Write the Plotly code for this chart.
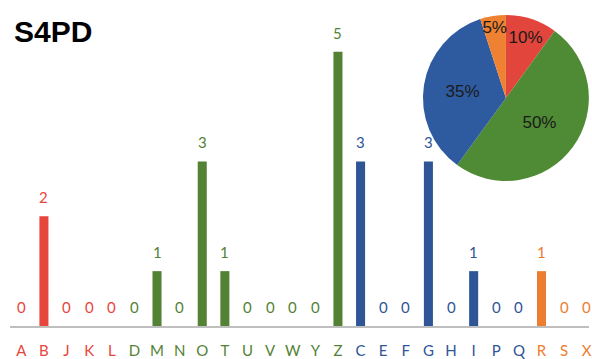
import plotly.graph_objects as go

categories = list("ABJKLDMNOTUVWYZCEFGHIPQRSX")
values = [0, 2, 0, 0, 0, 0, 1, 0, 3, 1, 0, 0, 0, 0, 5, 3, 0, 0, 3, 0, 1, 0, 0, 1, 0, 0]
groups = ["red"] * 5 + ["green"] * 10 + ["blue"] * 8 + ["orange"] * 3

bar_colors = {"red": "#E8453C", "green": "#548235", "blue": "#2F5597", "orange": "#ED7D31"}
pie_colors = {"red": "#E2453B", "green": "#4F8A34", "blue": "#2E5AA0", "orange": "#EE8132"}
pie_labels = ["red", "green", "blue", "orange"]
pie_values = [sum(v for v, g in zip(values, groups) if g == k) for k in pie_labels]

fig = go.Figure()
fig.add_trace(go.Bar(
    x=categories, y=values, width=0.4,
    marker=dict(color=[bar_colors[g] for g in groups], line=dict(width=0)),
    showlegend=False, hoverinfo="skip",
))

for c, v, g in zip(categories, values, groups):
    fig.add_annotation(x=c, y=v, text=str(v), showarrow=False, yanchor="bottom", yshift=8,
                       font=dict(family="Lato", size=15, color=bar_colors[g]))

fig.add_trace(go.Pie(
    labels=pie_labels, values=pie_values, sort=False, direction="clockwise", rotation=0,
    marker=dict(colors=[pie_colors[k] for k in pie_labels], line=dict(width=0)),
    textinfo="percent", textposition="inside", insidetextorientation="horizontal",
    textfont=dict(family="Liberation Sans", size=17, color="#1A1A1A"),
    domain=dict(x=[0.713, 1], y=[0.459, 0.984]),
    showlegend=False, hoverinfo="skip",
))

fig.add_annotation(xref="paper", yref="paper", x=0.004, y=0.931, xanchor="left", yanchor="middle",
                   text="<b>S4PD</b>", showarrow=False,
                   font=dict(family="Liberation Sans", size=30, color="black"))

fig.update_xaxes(
    type="category", range=[-0.5, 25.1], showline=True, linecolor="#BFBFBF", linewidth=1.5,
    showgrid=False, zeroline=False, ticks="", ticklabelstandoff=10,
    tickfont=dict(family="Lato", size=15),
)
fig.update_yaxes(range=[0, 5.76], visible=False, showgrid=False, zeroline=False)

tick_colors = [bar_colors[g] for g in groups]
fig.update_xaxes(tickvals=categories,
                 ticktext=[f'<span style="color:{col}">{c}</span>' for c, col in zip(categories, tick_colors)])

fig.update_layout(
    width=592, height=359, margin=dict(l=10, r=0, t=10, b=31),
    paper_bgcolor="white", plot_bgcolor="white", bargap=0.6,
    uniformtext=dict(minsize=17, mode="show"),
)

fig.write_html("out.html")
